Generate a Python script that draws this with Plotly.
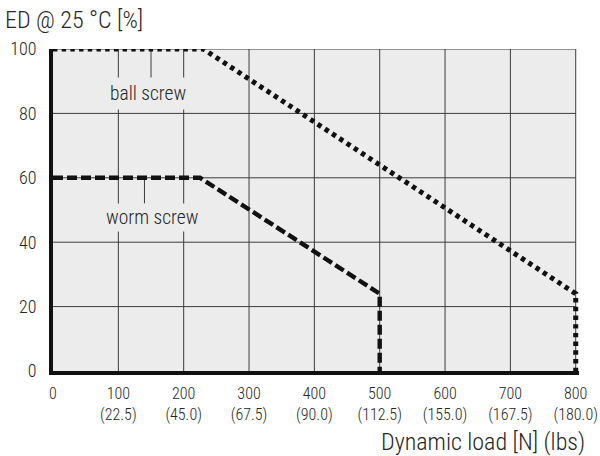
import plotly.graph_objects as go

# Data
ball_x = [0, 230, 800, 800]
ball_y = [100, 100, 24, 0]
worm_x = [0, 225, 500, 500]
worm_y = [60, 60, 24, 0]

x_ticks = [0, 100, 200, 300, 400, 500, 600, 700, 800]
x_lbs = ["", "(22.5)", "(45.0)", "(67.5)", "(90.0)", "(112.5)", "(155.0)", "(167.5)", "(180.0)"]
y_ticks = [0, 20, 40, 60, 80, 100]

FONT = "Roboto Condensed, Liberation Sans, sans-serif"
BG = "#ececec"
GRID = "#3c3c3c"
TXT = "#262626"
W = 350

x_text = [f"{v}<br>{l}" if l else f"{v}" for v, l in zip(x_ticks, x_lbs)]
x_max, y_max = x_ticks[-1], y_ticks[-1]

fig = go.Figure()

# plot background and grid (limited to the data frame)
fig.add_shape(type="rect", x0=0, x1=x_max, y0=0, y1=y_max, fillcolor=BG, line_width=0, layer="below")
for yv in y_ticks[1:]:
    fig.add_shape(type="line", x0=0, x1=x_max, y0=yv, y1=yv, line=dict(color=GRID, width=1), layer="below")
for xv in x_ticks[1:]:
    fig.add_shape(type="line", x0=xv, x1=xv, y0=0, y1=y_max, line=dict(color=GRID, width=1), layer="below")
# leader lines
fig.add_shape(type="line", x0=150, x1=150, y0=100, y1=91, line=dict(color=GRID, width=1), layer="below")
fig.add_shape(type="line", x0=140, x1=140, y0=60, y1=52, line=dict(color=GRID, width=1), layer="below")

fig.add_trace(go.Scatter(x=ball_x, y=ball_y, mode="lines",
                         line=dict(color="#111", width=5, dash="4.4px,4.3px"), showlegend=False))
fig.add_trace(go.Scatter(x=worm_x, y=worm_y, mode="lines",
                         line=dict(color="#111", width=4.4, dash="10px,4px"), showlegend=False))

fig.add_annotation(x=146, y=86.3, text="ball screw", showarrow=False, bgcolor=BG, borderpad=4,
                   font=dict(family=FONT, size=19.5, color=TXT, weight=W))
fig.add_annotation(x=151, y=47.7, text="worm screw", showarrow=False, bgcolor=BG, borderpad=2,
                   font=dict(family=FONT, size=19.5, color=TXT, weight=W))

fig.add_annotation(xref="paper", yref="paper", x=0, y=1, xanchor="left", yanchor="middle",
                   text="ED @ 25 °C [%]", showarrow=False, xshift=-50, yshift=29,
                   font=dict(family=FONT, size=24, color=TXT, weight=W))
fig.add_annotation(xref="paper", yref="paper", x=1, y=0, xanchor="right", yanchor="middle",
                   text="Dynamic load [N] (lbs)", showarrow=False, xshift=8, yshift=-71,
                   font=dict(family=FONT, size=24, color=TXT, weight=W))

fig.update_xaxes(range=[0, 805], tickvals=x_ticks, ticktext=x_text, showgrid=False,
                 zeroline=False, showline=True, linecolor="#111",
                 linewidth=4, ticks="", ticklabelstandoff=5, automargin=False,
                 tickfont=dict(family=FONT, size=16, color=TXT, weight=W))
fig.update_yaxes(range=[0, 100], tickvals=y_ticks, showgrid=False,
                 zeroline=False, showline=True, linecolor="#111", linewidth=4, ticks="",
                 ticklabelstandoff=9, automargin=False,
                 tickfont=dict(family=FONT, size=18, color=TXT, weight=W))

fig.update_layout(width=600, height=456, margin=dict(l=53, r=21, t=49, b=85),
                  plot_bgcolor="white", paper_bgcolor="white")
fig.write_html("out.html", config={"displayModeBar": False},
               post_script="document.body.style.margin='0px';")
